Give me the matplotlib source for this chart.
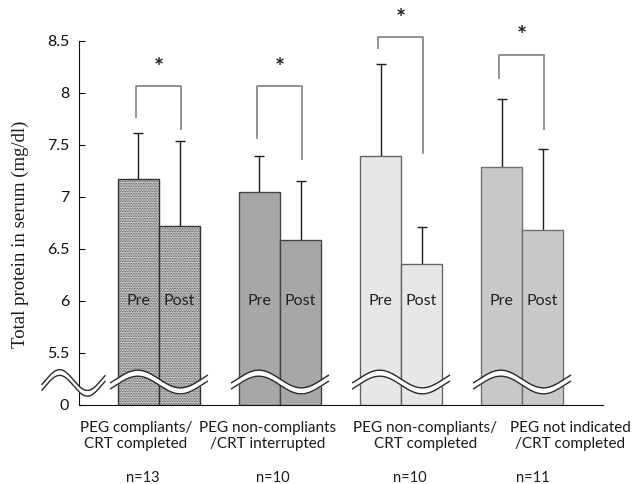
import numpy as np
import matplotlib
matplotlib.use('Agg')
import matplotlib.pyplot as plt
import matplotlib.transforms as mtransforms

# data
groups = ['PEG compliants/\nCRT completed',
          'PEG non-compliants\n/CRT interrupted',
          'PEG non-compliants/\nCRT completed',
          'PEG not indicated\n/CRT completed']
n_labels = ['n=13', 'n=10', 'n=10', 'n=11']
pre = [7.17, 7.05, 7.39, 7.29]
post = [6.72, 6.59, 6.36, 6.68]
pre_err = [0.45, 0.34, 0.89, 0.65]
post_err = [0.82, 0.56, 0.35, 0.78]
tick_vals = [5.0, 5.5, 6.0, 6.5, 7.0, 7.5, 8.0, 8.5]
tick_labels = ['0', '5.5', '6', '6.5', '7', '7.5', '8', '8.5']

# significance brackets (top, left leg end, right leg end)
br_top = [8.07, 8.07, 8.54, 8.37]
br_left = [7.77, 7.57, 8.43, 8.14]
br_right = [7.65, 7.37, 7.42, 7.65]

face = ['#c4c4c4', '#a7a7a9', '#e6e7e8', '#c8c9cb']
edge = ['#333333', '#444444', '#666666', '#707070']
hatch = ['..........', None, None, None]

sans = ['Lato', 'DejaVu Sans']
plt.rcParams['font.family'] = sans
plt.rcParams['hatch.color'] = '#a0a0a0'
plt.rcParams['hatch.linewidth'] = 0.35

fig = plt.figure(figsize=(6.36, 4.84), dpi=100)
ax = fig.add_axes([79/636, 79/484, 524/636, 395/484])

x = np.arange(len(groups))
w = 0.339
for i in range(len(groups)):
    ax.bar(x[i] - w/2, pre[i] - 5.0, w, bottom=5.0, color=face[i], edgecolor=edge[i],
           linewidth=1, hatch=hatch[i], zorder=3)
    ax.bar(x[i] + w/2, post[i] - 5.0, w, bottom=5.0, color=face[i], edgecolor=edge[i],
           linewidth=1, hatch=hatch[i], zorder=3)
    ax.text(x[i] - w/2, 6.0, 'Pre', ha='center', va='center', fontsize=11.5, color='#222222', zorder=5)
    ax.text(x[i] + w/2, 6.0, 'Post', ha='center', va='center', fontsize=11.5, color='#222222', zorder=5)

ax.errorbar(x - w/2, pre, yerr=pre_err, fmt='none', ecolor='#1a1a1a', elinewidth=1,
            capsize=3.5, capthick=1, zorder=2)
ax.errorbar(x + w/2, post, yerr=post_err, fmt='none', ecolor='#1a1a1a', elinewidth=1,
            capsize=3.5, capthick=1, zorder=2)

# brackets and stars
for i in range(len(groups)):
    xl = x[i] - w/2 - 0.02
    xr = x[i] + w/2 + 0.01
    ax.plot([xl, xl, xr, xr], [br_left[i], br_top[i], br_top[i], br_right[i]],
            color='#8a8a8a', lw=1.3, zorder=4, clip_on=False)
    ax.text((xl + xr)/2, br_top[i] + 0.17, '*', ha='center', va='center',
            fontsize=17, fontweight='bold', color='#222222', clip_on=False)


def wave(x0, x1, yc, amp, gap):
    t = np.linspace(0, 1, 200)
    xs = x0 + (x1 - x0)*t
    ys = yc + amp*np.cos(2*np.pi*(t - 0.28)/0.88)
    ax.fill_between(xs, ys - gap, ys, color='white', lw=0, zorder=6, clip_on=False)
    ax.plot(xs, ys, color='#2a2a2a', lw=1, zorder=7, clip_on=False)
    ax.plot(xs, ys - gap, color='#2a2a2a', lw=1, zorder=7, clip_on=False)


for i in range(len(groups)):
    wave(x[i] - 0.40, x[i] + 0.40, 5.25, 0.085, 0.058)
wave(-0.967, -0.446, 5.24, 0.10, 0.055)

ax.set_xlim(-0.661, 3.669)
ax.set_ylim(5.0, 8.798)
ax.spines['top'].set_visible(False)
ax.spines['right'].set_visible(False)
ax.spines['left'].set_bounds(5.0, 8.5)
ax.spines['left'].set_color('#111111')
ax.spines['bottom'].set_color('#111111')
ax.set_yticks(tick_vals)
ax.set_yticklabels(tick_labels)
ax.tick_params(axis='y', direction='in', length=4, pad=7, labelsize=11.5, colors='#111111')
ax.set_xticks([])

trans = mtransforms.blended_transform_factory(ax.transData, fig.transFigure)
lab_off = [-0.19, -0.10, 0.20, 0.40]
n_off = [-0.13, -0.06, 0.07, 0.09]
for i in range(len(groups)):
    ax.text(x[i] + lab_off[i], 1 - 436/484, groups[i], transform=trans, ha='center', va='center',
            fontsize=11, color='#1a1a1a', linespacing=1.1)
    ax.text(x[i] + n_off[i], 1 - 478/484, n_labels[i], transform=trans, ha='center', va='center',
            fontsize=10.5, color='#1a1a1a')

fig.text(20/636, 1 - 234/484, 'Total protein in serum (mg/dl)', rotation=90, ha='center', va='center',
         fontsize=13.5, family='Liberation Serif', color='#1a1a1a')

fig.savefig('out.png', dpi=100)
